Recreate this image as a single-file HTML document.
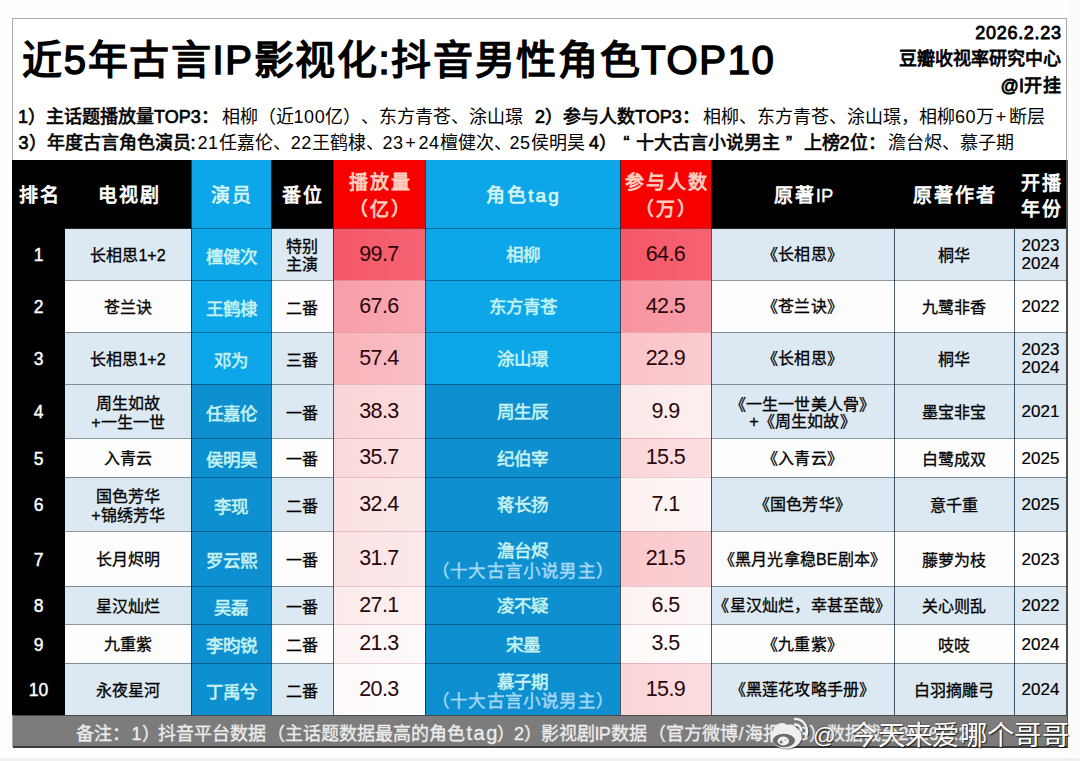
<!DOCTYPE html>
<html lang="zh-CN">
<head>
<meta charset="utf-8">
<title>TOP10</title>
<style>
html,body{margin:0;padding:0}
body{text-spacing-trim:space-all;width:1080px;height:761px;position:relative;overflow:hidden;background:#fefefe;font-family:"Liberation Sans",sans-serif;color:#000}
.pagebot{position:absolute;left:0;top:758px;width:1080px;height:3px;background:#f0f0f0}
.pageright{position:absolute;left:1068px;top:0;width:12px;height:758px;background:#fcfcfa}
.card{position:absolute;left:12px;top:18px;width:1055px;height:729px;background:#fff;border:1px solid #a9a9a9;box-sizing:border-box}
.title{position:absolute;left:22px;top:33.5px;font-size:40px;font-weight:400;-webkit-text-stroke:1.5px #000;white-space:nowrap;line-height:52px;letter-spacing:1.65px}
.tr{position:absolute;right:19px;white-space:nowrap;font-weight:400;text-align:right;-webkit-text-stroke:0.8px #000}
.tr1{top:23px;right:18.3px;font-size:18px;line-height:20px;letter-spacing:0.7px}
.tr2{top:48px;font-size:18px;line-height:22px}
.tr3{top:74.5px;font-size:18px;line-height:22px;letter-spacing:0.3px}
.sum{position:absolute;left:0;width:1080px;height:22px;white-space:nowrap;font-size:18px;line-height:22px}
.sum b,.sum i{position:absolute;top:0;font-style:normal;font-weight:400}
.sum b{-webkit-text-stroke:0.65px #000}
.sum u{text-decoration:none;letter-spacing:0.6px}
.sum em{font-style:normal;padding:0 2.7px 0 1.5px}
.s1{top:106px}
.s2{top:132px}
.c{position:absolute;display:flex;align-items:center;justify-content:center;text-align:center;box-sizing:border-box;white-space:nowrap}
.c span{display:block}
.h{color:#fff;font-weight:400;-webkit-text-stroke:0.8px #fff;font-size:19px;line-height:26px;letter-spacing:2px}
.h span{position:relative;top:2px;left:1px}
.hac,.htg{color:#d6f5f3;font-weight:400;-webkit-text-stroke:0.7px #d6f5f3}
.hpl,.hpt{color:#ffd0c2;-webkit-text-stroke:0.8px #ffd0c2;line-height:26.4px}
.hpl span,.hpt span{top:2.5px}
.hyr{line-height:25.5px}
.h em{font-style:normal;letter-spacing:0;font-size:18.5px;-webkit-text-stroke:0.3px #fff}
.hyr span{top:2.5px}
.rk{color:#fff;font-size:17.5px;-webkit-text-stroke:0.4px #fff}
.tv{font-size:16px;-webkit-text-stroke:0.3px #000;line-height:19px}
.ac{font-size:17.5px;color:#c6f2f1;-webkit-text-stroke:0.6px #c6f2f1}
.fw{font-size:16px;-webkit-text-stroke:0.3px #000;line-height:17.6px}
.fw span{position:relative;top:2.5px}
.fw.two span{top:1.5px}
.tv span{position:relative;top:1px}
.pl,.pt{font-size:21.5px;letter-spacing:-0.6px;color:#2b0609}
.tg{font-size:17.5px;color:#c6f2f1;-webkit-text-stroke:0.6px #c6f2f1;line-height:19.5px}
.rk span{position:relative;top:1.5px}
.ac span{position:relative;top:1px}
.tg span{position:relative;top:2px}
.tg.two span{position:relative;top:3px}
.ip span{position:relative;top:1px}
.tv.two span{position:relative;top:2px}
.tg.two span.sub{position:static}
.tg .sub{display:inline;color:#a6d8f6;-webkit-text-stroke:0.45px #a6d8f6;letter-spacing:1.2px;margin-right:-1.2px}
.ip{font-size:16px;-webkit-text-stroke:0.3px #000;line-height:17.5px;letter-spacing:0.2px}
.ip.two span{position:relative;top:2px}
.au{font-size:16px;-webkit-text-stroke:0.3px #000}
.yr{font-size:17px;line-height:18px;-webkit-text-stroke:0.2px #000}
.yr span{position:relative;top:1.3px}
.ln{position:absolute;background:rgba(15,40,60,0.75)}
.foot{position:absolute;left:13px;top:715px;width:1054px;height:33px;background:#7c7c7c;border-bottom:2px solid #3c3c3c;border-top:1px solid #4a4a4a;box-sizing:border-box;overflow:hidden}
.foot i{position:absolute;top:7px;font-style:normal;font-size:18px;line-height:22px;color:#ececec;white-space:nowrap;-webkit-text-stroke:0.35px #ececec;margin-left:-13px}
.wmlogo{position:absolute;left:768px;top:715px}
.wm{position:absolute;right:11px;top:718.5px;font-size:27.4px;letter-spacing:0.35px;line-height:34px;color:#fff;white-space:nowrap;font-weight:400;text-shadow:1px 1px 1px rgba(0,0,0,.7),0 0 2px rgba(0,0,0,.45)}
.wm .at{font-size:22.5px;margin-right:14px;position:relative;top:-2px;font-weight:400}
</style>
</head>
<body>
<div class="pagebot"></div>
<div class="pageright"></div>
<div class="card"></div>
<div class="title">近5年古言IP影视化:抖音男性角色TOP10</div>
<div class="tr tr1">2026.2.23</div>
<div class="tr tr2">豆瓣收视率研究中心</div>
<div class="tr tr3">@I开挂</div>
<div class="sum s1">
<b style="left:18px">1）主话题播放量TOP3：</b>
<i style="left:221.5px">相柳（近<u>100</u>亿）、东方青苍、涂山璟</i>
<b style="left:535px">2）参与人数TOP3：</b>
<i style="left:703px">相柳、东方青苍、涂山璟，相柳<u>60</u>万<em>+</em>断层</i>
</div>
<div class="sum s2">
<b style="left:18.5px">3）年度古言角色演员:</b>
<i style="left:197.5px"><u>21</u>任嘉伦、</i>
<i style="left:290.7px"><u>22</u>王鹤棣、</i>
<i style="left:382.5px"><u>23</u><em>+</em><u>24</u>檀健次、</i>
<i style="left:509.5px"><u>25</u>侯明昊</i>
<b style="left:589px">4）</b>
<b style="left:623.5px">“</b>
<b style="left:636.2px">十大古言小说男主</b>
<b style="left:786px">”</b>
<b style="left:803.5px">上榜2位：</b>
<i style="left:888px">澹台烬、慕子期</i>
</div>
<div class="c h hrk" style="left:12px;top:160px;width:53px;height:68px;background:#000;"><span>排名</span></div>
<div class="c h htv" style="left:65px;top:160px;width:126px;height:68px;background:#000;"><span>电视剧</span></div>
<div class="c h hac" style="left:191px;top:160px;width:80px;height:68px;background:#0da6e8;"><span>演员</span></div>
<div class="c h hfw" style="left:271px;top:160px;width:62px;height:68px;background:#000;"><span>番位</span></div>
<div class="c h hpl" style="left:333px;top:160px;width:92px;height:68px;background:#f70000;"><span>播放量<br>（亿）</span></div>
<div class="c h htg" style="left:425px;top:160px;width:195px;height:68px;background:#0da6e8;"><span>角色tag</span></div>
<div class="c h hpt" style="left:620px;top:160px;width:91px;height:68px;background:#f70000;"><span>参与人数<br>（万）</span></div>
<div class="c h hip" style="left:711px;top:160px;width:183px;height:68px;background:#000;"><span>原著<em>IP</em></span></div>
<div class="c h hau" style="left:894px;top:160px;width:120px;height:68px;background:#000;"><span>原著作者</span></div>
<div class="c h hyr" style="left:1014px;top:160px;width:53px;height:68px;background:#000;"><span>开播<br>年份</span></div>
<div class="c rk" style="left:12px;top:228px;width:53px;height:52px;background:#000;"><span>1</span></div>
<div class="c tv" style="left:65px;top:228px;width:126px;height:52px;background:#dce8f2;"><span>长相思1+2</span></div>
<div class="c ac" style="left:191px;top:228px;width:80px;height:52px;background:#0da6e8;"><span>檀健次</span></div>
<div class="c fw two" style="left:271px;top:228px;width:62px;height:52px;background:#dce8f2;"><span>特别<br>主演</span></div>
<div class="c pl" style="left:333px;top:228px;width:92px;height:52px;background:linear-gradient(90deg,#f55767,#f56373);"><span>99.7</span></div>
<div class="c tg" style="left:425px;top:228px;width:195px;height:52px;background:#0da6e8;"><span>相柳</span></div>
<div class="c pt" style="left:620px;top:228px;width:91px;height:52px;background:linear-gradient(90deg,#f55767,#f56373);"><span>64.6</span></div>
<div class="c ip" style="left:711px;top:228px;width:183px;height:52px;background:#dce8f2;"><span>《长相思》</span></div>
<div class="c au" style="left:894px;top:228px;width:120px;height:52px;background:#dce8f2;"><span>桐华</span></div>
<div class="c yr two" style="left:1014px;top:228px;width:53px;height:52px;background:#dce8f2;"><span>2023<br>2024</span></div>
<div class="c rk" style="left:12px;top:280px;width:53px;height:52px;background:#000;"><span>2</span></div>
<div class="c tv" style="left:65px;top:280px;width:126px;height:52px;background:#fdfdfd;"><span>苍兰诀</span></div>
<div class="c ac" style="left:191px;top:280px;width:80px;height:52px;background:#0da6e8;"><span>王鹤棣</span></div>
<div class="c fw" style="left:271px;top:280px;width:62px;height:52px;background:#fdfdfd;"><span>二番</span></div>
<div class="c pl" style="left:333px;top:280px;width:92px;height:52px;background:linear-gradient(90deg,#f89fa9,#f8a9b2);"><span>67.6</span></div>
<div class="c tg" style="left:425px;top:280px;width:195px;height:52px;background:#0da6e8;"><span>东方青苍</span></div>
<div class="c pt" style="left:620px;top:280px;width:91px;height:52px;background:linear-gradient(90deg,#f8949f,#f89ea9);"><span>42.5</span></div>
<div class="c ip" style="left:711px;top:280px;width:183px;height:52px;background:#fdfdfd;"><span>《苍兰诀》</span></div>
<div class="c au" style="left:894px;top:280px;width:120px;height:52px;background:#fdfdfd;"><span>九鹭非香</span></div>
<div class="c yr" style="left:1014px;top:280px;width:53px;height:52px;background:#fdfdfd;"><span>2022</span></div>
<div class="c rk" style="left:12px;top:332px;width:53px;height:52px;background:#000;"><span>3</span></div>
<div class="c tv" style="left:65px;top:332px;width:126px;height:52px;background:#dce8f2;"><span>长相思1+2</span></div>
<div class="c ac" style="left:191px;top:332px;width:80px;height:52px;background:#0da6e8;"><span>邓为</span></div>
<div class="c fw" style="left:271px;top:332px;width:62px;height:52px;background:#dce8f2;"><span>三番</span></div>
<div class="c pl" style="left:333px;top:332px;width:92px;height:52px;background:linear-gradient(90deg,#f9b4bb,#f9bdc4);"><span>57.4</span></div>
<div class="c tg" style="left:425px;top:332px;width:195px;height:52px;background:#0da6e8;"><span>涂山璟</span></div>
<div class="c pt" style="left:620px;top:332px;width:91px;height:52px;background:linear-gradient(90deg,#fac4c8,#faccd0);"><span>22.9</span></div>
<div class="c ip" style="left:711px;top:332px;width:183px;height:52px;background:#dce8f2;"><span>《长相思》</span></div>
<div class="c au" style="left:894px;top:332px;width:120px;height:52px;background:#dce8f2;"><span>桐华</span></div>
<div class="c yr two" style="left:1014px;top:332px;width:53px;height:52px;background:#dce8f2;"><span>2023<br>2024</span></div>
<div class="c rk" style="left:12px;top:384px;width:53px;height:54px;background:#000;"><span>4</span></div>
<div class="c tv two" style="left:65px;top:384px;width:126px;height:54px;background:#dce8f2;"><span>周生如故<br>+一生一世</span></div>
<div class="c ac" style="left:191px;top:384px;width:80px;height:54px;background:#0d8fd0;"><span>任嘉伦</span></div>
<div class="c fw" style="left:271px;top:384px;width:62px;height:54px;background:#dce8f2;"><span>一番</span></div>
<div class="c pl" style="left:333px;top:384px;width:92px;height:54px;background:linear-gradient(90deg,#fad4d6,#fbdbde);"><span>38.3</span></div>
<div class="c tg" style="left:425px;top:384px;width:195px;height:54px;background:#0d8fd0;"><span>周生辰</span></div>
<div class="c pt" style="left:620px;top:384px;width:91px;height:54px;background:linear-gradient(90deg,#fce8e8,#fdefef);"><span>9.9</span></div>
<div class="c ip two" style="left:711px;top:384px;width:183px;height:54px;background:#dce8f2;"><span>《一生一世美人骨》<br>+《周生如故》</span></div>
<div class="c au" style="left:894px;top:384px;width:120px;height:54px;background:#dce8f2;"><span>墨宝非宝</span></div>
<div class="c yr" style="left:1014px;top:384px;width:53px;height:54px;background:#dce8f2;"><span>2021</span></div>
<div class="c rk" style="left:12px;top:438px;width:53px;height:39px;background:#000;"><span>5</span></div>
<div class="c tv" style="left:65px;top:438px;width:126px;height:39px;background:#fdfdfd;"><span>入青云</span></div>
<div class="c ac" style="left:191px;top:438px;width:80px;height:39px;background:#0d8fd0;"><span>侯明昊</span></div>
<div class="c fw" style="left:271px;top:438px;width:62px;height:39px;background:#fdfdfd;"><span>一番</span></div>
<div class="c pl" style="left:333px;top:438px;width:92px;height:39px;background:linear-gradient(90deg,#fad9db,#fbe1e3);"><span>35.7</span></div>
<div class="c tg" style="left:425px;top:438px;width:195px;height:39px;background:#0d8fd0;"><span>纪伯宰</span></div>
<div class="c pt" style="left:620px;top:438px;width:91px;height:39px;background:linear-gradient(90deg,#fad6d8,#fbdee0);"><span>15.5</span></div>
<div class="c ip" style="left:711px;top:438px;width:183px;height:39px;background:#fdfdfd;"><span>《入青云》</span></div>
<div class="c au" style="left:894px;top:438px;width:120px;height:39px;background:#fdfdfd;"><span>白鹭成双</span></div>
<div class="c yr" style="left:1014px;top:438px;width:53px;height:39px;background:#fdfdfd;"><span>2025</span></div>
<div class="c rk" style="left:12px;top:477px;width:53px;height:54px;background:#000;"><span>6</span></div>
<div class="c tv two" style="left:65px;top:477px;width:126px;height:54px;background:#dce8f2;"><span>国色芳华<br>+锦绣芳华</span></div>
<div class="c ac" style="left:191px;top:477px;width:80px;height:54px;background:#0d8fd0;"><span>李现</span></div>
<div class="c fw" style="left:271px;top:477px;width:62px;height:54px;background:#dce8f2;"><span>二番</span></div>
<div class="c pl" style="left:333px;top:477px;width:92px;height:54px;background:linear-gradient(90deg,#fbe0e1,#fce8e8);"><span>32.4</span></div>
<div class="c tg" style="left:425px;top:477px;width:195px;height:54px;background:#0d8fd0;"><span>蒋长扬</span></div>
<div class="c pt" style="left:620px;top:477px;width:91px;height:54px;background:linear-gradient(90deg,#fdf0f0,#fef7f7);"><span>7.1</span></div>
<div class="c ip" style="left:711px;top:477px;width:183px;height:54px;background:#dce8f2;"><span>《国色芳华》</span></div>
<div class="c au" style="left:894px;top:477px;width:120px;height:54px;background:#dce8f2;"><span>意千重</span></div>
<div class="c yr" style="left:1014px;top:477px;width:53px;height:54px;background:#dce8f2;"><span>2025</span></div>
<div class="c rk" style="left:12px;top:531px;width:53px;height:55px;background:#000;"><span>7</span></div>
<div class="c tv" style="left:65px;top:531px;width:126px;height:55px;background:#fdfdfd;"><span>长月烬明</span></div>
<div class="c ac" style="left:191px;top:531px;width:80px;height:55px;background:#0d8fd0;"><span>罗云熙</span></div>
<div class="c fw" style="left:271px;top:531px;width:62px;height:55px;background:#fdfdfd;"><span>一番</span></div>
<div class="c pl" style="left:333px;top:531px;width:92px;height:55px;background:linear-gradient(90deg,#fbe2e3,#fce9ea);"><span>31.7</span></div>
<div class="c tg two" style="left:425px;top:531px;width:195px;height:55px;background:#0d8fd0;"><span>澹台烬<br><span class="sub">（十大古言小说男主）</span></span></div>
<div class="c pt" style="left:620px;top:531px;width:91px;height:55px;background:linear-gradient(90deg,#fac8cc,#fad0d4);"><span>21.5</span></div>
<div class="c ip" style="left:711px;top:531px;width:183px;height:55px;background:#fdfdfd;"><span>《黑月光拿稳BE剧本》</span></div>
<div class="c au" style="left:894px;top:531px;width:120px;height:55px;background:#fdfdfd;"><span>藤萝为枝</span></div>
<div class="c yr" style="left:1014px;top:531px;width:53px;height:55px;background:#fdfdfd;"><span>2023</span></div>
<div class="c rk" style="left:12px;top:586px;width:53px;height:38px;background:#000;"><span>8</span></div>
<div class="c tv" style="left:65px;top:586px;width:126px;height:38px;background:#dce8f2;"><span>星汉灿烂</span></div>
<div class="c ac" style="left:191px;top:586px;width:80px;height:38px;background:#0d8fd0;"><span>吴磊</span></div>
<div class="c fw" style="left:271px;top:586px;width:62px;height:38px;background:#dce8f2;"><span>一番</span></div>
<div class="c pl" style="left:333px;top:586px;width:92px;height:38px;background:linear-gradient(90deg,#fceaea,#fdf1f1);"><span>27.1</span></div>
<div class="c tg" style="left:425px;top:586px;width:195px;height:38px;background:#0d8fd0;"><span>凌不疑</span></div>
<div class="c pt" style="left:620px;top:586px;width:91px;height:38px;background:linear-gradient(90deg,#fdf2f2,#fef8f8);"><span>6.5</span></div>
<div class="c ip" style="left:711px;top:586px;width:183px;height:38px;background:#dce8f2;"><span>《星汉灿烂，幸甚至哉》</span></div>
<div class="c au" style="left:894px;top:586px;width:120px;height:38px;background:#dce8f2;"><span>关心则乱</span></div>
<div class="c yr" style="left:1014px;top:586px;width:53px;height:38px;background:#dce8f2;"><span>2022</span></div>
<div class="c rk" style="left:12px;top:624px;width:53px;height:39px;background:#000;"><span>9</span></div>
<div class="c tv" style="left:65px;top:624px;width:126px;height:39px;background:#fdfdfd;"><span>九重紫</span></div>
<div class="c ac" style="left:191px;top:624px;width:80px;height:39px;background:#0d8fd0;"><span>李昀锐</span></div>
<div class="c fw" style="left:271px;top:624px;width:62px;height:39px;background:#fdfdfd;"><span>二番</span></div>
<div class="c pl" style="left:333px;top:624px;width:92px;height:39px;background:linear-gradient(90deg,#fdf4f4,#fefafa);"><span>21.3</span></div>
<div class="c tg" style="left:425px;top:624px;width:195px;height:39px;background:#0d8fd0;"><span>宋墨</span></div>
<div class="c pt" style="left:620px;top:624px;width:91px;height:39px;background:linear-gradient(90deg,#fef9f9,#ffffff);"><span>3.5</span></div>
<div class="c ip" style="left:711px;top:624px;width:183px;height:39px;background:#fdfdfd;"><span>《九重紫》</span></div>
<div class="c au" style="left:894px;top:624px;width:120px;height:39px;background:#fdfdfd;"><span>吱吱</span></div>
<div class="c yr" style="left:1014px;top:624px;width:53px;height:39px;background:#fdfdfd;"><span>2024</span></div>
<div class="c rk" style="left:12px;top:663px;width:53px;height:52px;background:#000;"><span>10</span></div>
<div class="c tv" style="left:65px;top:663px;width:126px;height:52px;background:#dce8f2;"><span>永夜星河</span></div>
<div class="c ac" style="left:191px;top:663px;width:80px;height:52px;background:#0d8fd0;"><span>丁禹兮</span></div>
<div class="c fw" style="left:271px;top:663px;width:62px;height:52px;background:#dce8f2;"><span>二番</span></div>
<div class="c pl" style="left:333px;top:663px;width:92px;height:52px;background:linear-gradient(90deg,#fef9f9,#ffffff);"><span>20.3</span></div>
<div class="c tg two" style="left:425px;top:663px;width:195px;height:52px;background:#0d8fd0;"><span>慕子期<br><span class="sub">（十大古言小说男主）</span></span></div>
<div class="c pt" style="left:620px;top:663px;width:91px;height:52px;background:linear-gradient(90deg,#fad5d7,#fbdcdf);"><span>15.9</span></div>
<div class="c ip" style="left:711px;top:663px;width:183px;height:52px;background:#dce8f2;"><span>《黑莲花攻略手册》</span></div>
<div class="c au" style="left:894px;top:663px;width:120px;height:52px;background:#dce8f2;"><span>白羽摘雕弓</span></div>
<div class="c yr" style="left:1014px;top:663px;width:53px;height:52px;background:#dce8f2;"><span>2024</span></div>
<div class="ln" style="left:65px;top:228px;width:126px;height:1px;background:rgba(0,0,0,0.85)"></div>
<div class="ln" style="left:191px;top:228px;width:80px;height:1px;background:rgba(0,45,85,0.5)"></div>
<div class="ln" style="left:271px;top:228px;width:62px;height:1px;background:rgba(0,0,0,0.85)"></div>
<div class="ln" style="left:333px;top:228px;width:92px;height:1px;background:rgba(120,0,10,0.6)"></div>
<div class="ln" style="left:425px;top:228px;width:195px;height:1px;background:rgba(0,45,85,0.5)"></div>
<div class="ln" style="left:620px;top:228px;width:91px;height:1px;background:rgba(120,0,10,0.6)"></div>
<div class="ln" style="left:711px;top:228px;width:183px;height:1px;background:rgba(0,0,0,0.85)"></div>
<div class="ln" style="left:894px;top:228px;width:120px;height:1px;background:rgba(0,0,0,0.85)"></div>
<div class="ln" style="left:1014px;top:228px;width:53px;height:1px;background:rgba(0,0,0,0.85)"></div>
<div class="ln" style="left:65px;top:280px;width:126px;height:1px;background:rgba(30,50,65,0.5)"></div>
<div class="ln" style="left:191px;top:280px;width:80px;height:1px;background:rgba(0,45,85,0.5)"></div>
<div class="ln" style="left:271px;top:280px;width:62px;height:1px;background:rgba(30,50,65,0.5)"></div>
<div class="ln" style="left:333px;top:280px;width:92px;height:1px;background:rgba(160,60,75,0.22)"></div>
<div class="ln" style="left:425px;top:280px;width:195px;height:1px;background:rgba(0,45,85,0.5)"></div>
<div class="ln" style="left:620px;top:280px;width:91px;height:1px;background:rgba(160,60,75,0.22)"></div>
<div class="ln" style="left:711px;top:280px;width:183px;height:1px;background:rgba(30,50,65,0.5)"></div>
<div class="ln" style="left:894px;top:280px;width:120px;height:1px;background:rgba(30,50,65,0.5)"></div>
<div class="ln" style="left:1014px;top:280px;width:53px;height:1px;background:rgba(30,50,65,0.5)"></div>
<div class="ln" style="left:65px;top:332px;width:126px;height:1px;background:rgba(30,50,65,0.5)"></div>
<div class="ln" style="left:191px;top:332px;width:80px;height:1px;background:rgba(0,45,85,0.5)"></div>
<div class="ln" style="left:271px;top:332px;width:62px;height:1px;background:rgba(30,50,65,0.5)"></div>
<div class="ln" style="left:333px;top:332px;width:92px;height:1px;background:rgba(160,60,75,0.22)"></div>
<div class="ln" style="left:425px;top:332px;width:195px;height:1px;background:rgba(0,45,85,0.5)"></div>
<div class="ln" style="left:620px;top:332px;width:91px;height:1px;background:rgba(160,60,75,0.22)"></div>
<div class="ln" style="left:711px;top:332px;width:183px;height:1px;background:rgba(30,50,65,0.5)"></div>
<div class="ln" style="left:894px;top:332px;width:120px;height:1px;background:rgba(30,50,65,0.5)"></div>
<div class="ln" style="left:1014px;top:332px;width:53px;height:1px;background:rgba(30,50,65,0.5)"></div>
<div class="ln" style="left:65px;top:384px;width:126px;height:1px;background:rgba(30,50,65,0.5)"></div>
<div class="ln" style="left:191px;top:384px;width:80px;height:1px;background:rgba(0,45,85,0.5)"></div>
<div class="ln" style="left:271px;top:384px;width:62px;height:1px;background:rgba(30,50,65,0.5)"></div>
<div class="ln" style="left:333px;top:384px;width:92px;height:1px;background:rgba(160,60,75,0.22)"></div>
<div class="ln" style="left:425px;top:384px;width:195px;height:1px;background:rgba(0,45,85,0.5)"></div>
<div class="ln" style="left:620px;top:384px;width:91px;height:1px;background:rgba(160,60,75,0.22)"></div>
<div class="ln" style="left:711px;top:384px;width:183px;height:1px;background:rgba(30,50,65,0.5)"></div>
<div class="ln" style="left:894px;top:384px;width:120px;height:1px;background:rgba(30,50,65,0.5)"></div>
<div class="ln" style="left:1014px;top:384px;width:53px;height:1px;background:rgba(30,50,65,0.5)"></div>
<div class="ln" style="left:65px;top:438px;width:126px;height:1px;background:rgba(30,50,65,0.5)"></div>
<div class="ln" style="left:191px;top:438px;width:80px;height:1px;background:rgba(0,45,85,0.5)"></div>
<div class="ln" style="left:271px;top:438px;width:62px;height:1px;background:rgba(30,50,65,0.5)"></div>
<div class="ln" style="left:333px;top:438px;width:92px;height:1px;background:rgba(160,60,75,0.22)"></div>
<div class="ln" style="left:425px;top:438px;width:195px;height:1px;background:rgba(0,45,85,0.5)"></div>
<div class="ln" style="left:620px;top:438px;width:91px;height:1px;background:rgba(160,60,75,0.22)"></div>
<div class="ln" style="left:711px;top:438px;width:183px;height:1px;background:rgba(30,50,65,0.5)"></div>
<div class="ln" style="left:894px;top:438px;width:120px;height:1px;background:rgba(30,50,65,0.5)"></div>
<div class="ln" style="left:1014px;top:438px;width:53px;height:1px;background:rgba(30,50,65,0.5)"></div>
<div class="ln" style="left:65px;top:477px;width:126px;height:1px;background:rgba(30,50,65,0.5)"></div>
<div class="ln" style="left:191px;top:477px;width:80px;height:1px;background:rgba(0,45,85,0.5)"></div>
<div class="ln" style="left:271px;top:477px;width:62px;height:1px;background:rgba(30,50,65,0.5)"></div>
<div class="ln" style="left:333px;top:477px;width:92px;height:1px;background:rgba(160,60,75,0.22)"></div>
<div class="ln" style="left:425px;top:477px;width:195px;height:1px;background:rgba(0,45,85,0.5)"></div>
<div class="ln" style="left:620px;top:477px;width:91px;height:1px;background:rgba(160,60,75,0.22)"></div>
<div class="ln" style="left:711px;top:477px;width:183px;height:1px;background:rgba(30,50,65,0.5)"></div>
<div class="ln" style="left:894px;top:477px;width:120px;height:1px;background:rgba(30,50,65,0.5)"></div>
<div class="ln" style="left:1014px;top:477px;width:53px;height:1px;background:rgba(30,50,65,0.5)"></div>
<div class="ln" style="left:65px;top:531px;width:126px;height:1px;background:rgba(30,50,65,0.5)"></div>
<div class="ln" style="left:191px;top:531px;width:80px;height:1px;background:rgba(0,45,85,0.5)"></div>
<div class="ln" style="left:271px;top:531px;width:62px;height:1px;background:rgba(30,50,65,0.5)"></div>
<div class="ln" style="left:333px;top:531px;width:92px;height:1px;background:rgba(160,60,75,0.22)"></div>
<div class="ln" style="left:425px;top:531px;width:195px;height:1px;background:rgba(0,45,85,0.5)"></div>
<div class="ln" style="left:620px;top:531px;width:91px;height:1px;background:rgba(160,60,75,0.22)"></div>
<div class="ln" style="left:711px;top:531px;width:183px;height:1px;background:rgba(30,50,65,0.5)"></div>
<div class="ln" style="left:894px;top:531px;width:120px;height:1px;background:rgba(30,50,65,0.5)"></div>
<div class="ln" style="left:1014px;top:531px;width:53px;height:1px;background:rgba(30,50,65,0.5)"></div>
<div class="ln" style="left:65px;top:586px;width:126px;height:1px;background:rgba(30,50,65,0.5)"></div>
<div class="ln" style="left:191px;top:586px;width:80px;height:1px;background:rgba(0,45,85,0.5)"></div>
<div class="ln" style="left:271px;top:586px;width:62px;height:1px;background:rgba(30,50,65,0.5)"></div>
<div class="ln" style="left:333px;top:586px;width:92px;height:1px;background:rgba(160,60,75,0.22)"></div>
<div class="ln" style="left:425px;top:586px;width:195px;height:1px;background:rgba(0,45,85,0.5)"></div>
<div class="ln" style="left:620px;top:586px;width:91px;height:1px;background:rgba(160,60,75,0.22)"></div>
<div class="ln" style="left:711px;top:586px;width:183px;height:1px;background:rgba(30,50,65,0.5)"></div>
<div class="ln" style="left:894px;top:586px;width:120px;height:1px;background:rgba(30,50,65,0.5)"></div>
<div class="ln" style="left:1014px;top:586px;width:53px;height:1px;background:rgba(30,50,65,0.5)"></div>
<div class="ln" style="left:65px;top:624px;width:126px;height:1px;background:rgba(30,50,65,0.5)"></div>
<div class="ln" style="left:191px;top:624px;width:80px;height:1px;background:rgba(0,45,85,0.5)"></div>
<div class="ln" style="left:271px;top:624px;width:62px;height:1px;background:rgba(30,50,65,0.5)"></div>
<div class="ln" style="left:333px;top:624px;width:92px;height:1px;background:rgba(160,60,75,0.22)"></div>
<div class="ln" style="left:425px;top:624px;width:195px;height:1px;background:rgba(0,45,85,0.5)"></div>
<div class="ln" style="left:620px;top:624px;width:91px;height:1px;background:rgba(160,60,75,0.22)"></div>
<div class="ln" style="left:711px;top:624px;width:183px;height:1px;background:rgba(30,50,65,0.5)"></div>
<div class="ln" style="left:894px;top:624px;width:120px;height:1px;background:rgba(30,50,65,0.5)"></div>
<div class="ln" style="left:1014px;top:624px;width:53px;height:1px;background:rgba(30,50,65,0.5)"></div>
<div class="ln" style="left:65px;top:663px;width:126px;height:1px;background:rgba(30,50,65,0.5)"></div>
<div class="ln" style="left:191px;top:663px;width:80px;height:1px;background:rgba(0,45,85,0.5)"></div>
<div class="ln" style="left:271px;top:663px;width:62px;height:1px;background:rgba(30,50,65,0.5)"></div>
<div class="ln" style="left:333px;top:663px;width:92px;height:1px;background:rgba(160,60,75,0.22)"></div>
<div class="ln" style="left:425px;top:663px;width:195px;height:1px;background:rgba(0,45,85,0.5)"></div>
<div class="ln" style="left:620px;top:663px;width:91px;height:1px;background:rgba(160,60,75,0.22)"></div>
<div class="ln" style="left:711px;top:663px;width:183px;height:1px;background:rgba(30,50,65,0.5)"></div>
<div class="ln" style="left:894px;top:663px;width:120px;height:1px;background:rgba(30,50,65,0.5)"></div>
<div class="ln" style="left:1014px;top:663px;width:53px;height:1px;background:rgba(30,50,65,0.5)"></div>
<div class="ln" style="left:191px;top:160px;width:1px;height:555px"></div>
<div class="ln" style="left:271px;top:160px;width:1px;height:555px"></div>
<div class="ln" style="left:333px;top:160px;width:1px;height:555px"></div>
<div class="ln" style="left:425px;top:160px;width:1px;height:555px"></div>
<div class="ln" style="left:620px;top:160px;width:1px;height:555px"></div>
<div class="ln" style="left:711px;top:160px;width:1px;height:555px"></div>
<div class="ln" style="left:894px;top:228px;width:1px;height:487px"></div>
<div class="ln" style="left:1014px;top:228px;width:1px;height:487px"></div>
<div class="ln" style="left:1066px;top:160px;width:1.5px;height:588px;background:#505050"></div>
<div class="foot">
<i style="left:76.3px">备注：</i>
<i style="left:131.5px">1）</i>
<i style="left:158px;letter-spacing:0.09px">抖音平台数据（主话题数据最高的角色</i>
<i style="left:466.5px;font-size:20px;letter-spacing:1.5px;top:6px">tag</i>
<i style="left:497px">）</i>
<i style="left:514px">2）</i>
<i style="left:540.5px">影视剧</i>
<i style="left:594.5px;letter-spacing:-0.8px">IP</i>
<i style="left:611px">数据</i>
<i style="left:647.5px">（官方微博</i>
<i style="left:738.5px">/</i>
<i style="left:744.5px">海报）3）数据截至2026.2.22</i>
</div>
<svg class="wmlogo" width="42" height="36" viewBox="0 0 42 36">
<g opacity=".5" transform="translate(1,1)" fill="#222" stroke="#222">
<ellipse cx="18.3" cy="21.5" rx="15.5" ry="12" stroke="none"/>
<path d="M27 9.5a6.5 6.5 0 0 1 6.5 6.5" fill="none" stroke-width="2.6"/>
<path d="M27 4a12 12 0 0 1 10.9 17.1" fill="none" stroke-width="2.6"/>
</g>
<ellipse cx="18.3" cy="21.8" rx="15.5" ry="11.8" fill="#efefef"/>
<ellipse cx="12.5" cy="13.5" rx="7.5" ry="5" transform="rotate(-22 12.5 13.5)" fill="#efefef"/>
<ellipse cx="22.5" cy="13.5" rx="6" ry="4" transform="rotate(12 22.5 13.5)" fill="#efefef"/>
<ellipse cx="15.9" cy="25.5" rx="11.1" ry="6.7" fill="#6b6b6b"/>
<ellipse cx="15.3" cy="26" rx="5.8" ry="4.4" fill="#f0f0f0"/>
<circle cx="13.2" cy="27" r="1.5" fill="#777"/>
<circle cx="17.4" cy="25" r="0.8" fill="#888"/>
<path d="M27 9.5a6.5 6.5 0 0 1 6.5 6.5" fill="none" stroke="#f4f4f4" stroke-width="2.3" stroke-linecap="round"/>
<path d="M27 4a12 12 0 0 1 10.9 17.1" fill="none" stroke="#f4f4f4" stroke-width="2.3" stroke-linecap="round"/>
</svg>
<div class="wm"><span class="at">@</span>今天来爱哪个哥哥</div>
</body>
</html>
